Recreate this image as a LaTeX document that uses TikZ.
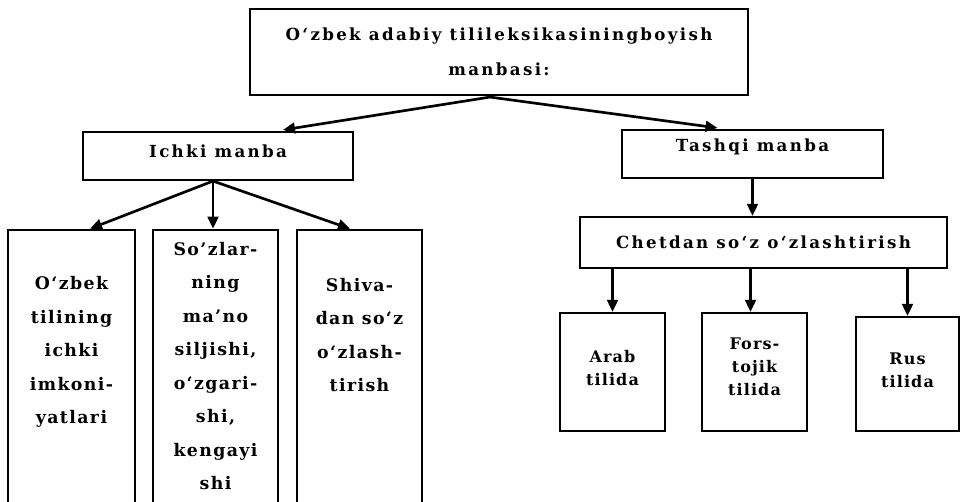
\documentclass[tikz,border=0pt]{standalone}
\usepackage{fontspec}
\setmainfont{DejaVu Serif}
\newfontfamily\headfont{DejaVu Serif Bold}[LetterSpace=14]
\newfontfamily\bodyfont{DejaVu Serif Bold}[LetterSpace=8]
\newfontfamily\smallfont{DejaVu Serif Bold}[LetterSpace=7]
\usetikzlibrary{arrows.meta,calc}
\tikzset{
  box/.style={draw, line width=1.6pt, rectangle, inner sep=0pt},
  openbox/.style={draw=none, rectangle, inner sep=0pt},
  headtxt/.style={font=\headfont\fontsize{12.5}{26}\selectfont, align=center, inner sep=0pt},
  bodytxt/.style={font=\bodyfont\fontsize{13}{25.1}\selectfont, align=center, inner sep=0pt},
  smalltxt/.style={font=\smallfont\fontsize{12}{17}\selectfont, align=center, inner sep=0pt},
  arr/.style={line width=2pt, -{Triangle[length=9pt,width=8pt]}},
  edge/.style={line width=1.6pt}
}
\begin{document}
\begin{tikzpicture}[x=0.75pt,y=-0.75pt]
\useasboundingbox (0,0) rectangle (961,502);
\clip (0,0) rectangle (961,502);
\fill[white] (0,0) rectangle (961,502);
% top
\node[box, minimum width=373.5pt, minimum height=64.5pt, headtxt] (top) at (499,52) {O‘zbek adabiy tilileksikasiningboyish\\manbasi:};
% level 2
\node[box, minimum width=202.5pt, minimum height=36pt, headtxt] (ichki) at (218,156) {\raisebox{7pt}{Ichki manba}};
\node[box, minimum width=195.75pt, minimum height=36pt, headtxt] (tashqi) at (752.5,154) {\raisebox{13pt}{Tashqi manba}};
\node[box, minimum width=275.25pt, minimum height=38.25pt, headtxt] (chet) at (763.5,242.5) {Chetdan so‘z o‘zlashtirish};
% left lower boxes (open at bottom)
\node[openbox, minimum width=95.25pt, minimum height=217.5pt] (b1) at (71.5,375) {};
\node[openbox, minimum width=93.75pt, minimum height=217.5pt] (b2) at (215.5,375) {};
\node[openbox, minimum width=93.75pt, minimum height=217.5pt] (b3) at (359.5,375) {};
\foreach \b in {b1,b2,b3}
  \draw[edge] (\b.south west) |- (\b.north east) -- (\b.south east);
\node[bodytxt] (t1) at (71.5,352) {O‘zbek\\tilining\\ichki\\imkoni-\\yatlari};
\node[bodytxt] (t2) at (215.5,366) {So’zlar-\\ning\\ma’no\\siljishi,\\o‘zgari-\\shi,\\kengayi\\shi};
\node[bodytxt] (t3) at (359.5,335) {Shiva-\\dan so‘z\\o‘zlash-\\tirish};
% right lower boxes
\node[box, minimum width=78.75pt, minimum height=88.5pt,
  label={[smalltxt, yshift=3pt]center:Arab\\tilida}] (a1) at (612.5,372) {};
\node[box, minimum width=78.75pt, minimum height=88.5pt,
  label={[smalltxt, yshift=4pt]center:Fors-\\tojik\\tilida}] (a2) at (754.5,372) {};
\node[box, minimum width=77.25pt, minimum height=85.5pt,
  label={[smalltxt, yshift=3pt]center:Rus\\tilida}] (a3) at (907.5,374) {};
% arrows
\draw[arr] ($(top.south)+(-9,1)$) -- ($(ichki.north)+(65,-1)$);
\draw[arr] ($(top.south)+(-9,1)$) -- ($(tashqi.north)+(-35,-1)$);
\draw[arr] ($(ichki.south)+(-5,0)$) -- ($(b1.north)+(18.5,-1)$);
\draw[arr] ($(ichki.south)+(-5,0)$) -- ($(b2.north)+(-2.5,-1)$);
\draw[arr] ($(ichki.south)+(-5,0)$) -- ($(b3.north)+(-9.5,-1)$);
\draw[arr] (tashqi.south) -- (tashqi.south |- chet.north);
\draw[arr] (chet.south -| a1.north) -- (a1.north);
\draw[arr] ($(chet.south -| a2.north)+(-4,0)$) -- ($(a2.north)+(-4,0)$);
\draw[arr] (chet.south -| a3.north) -- (a3.north);
\end{tikzpicture}
\end{document}
